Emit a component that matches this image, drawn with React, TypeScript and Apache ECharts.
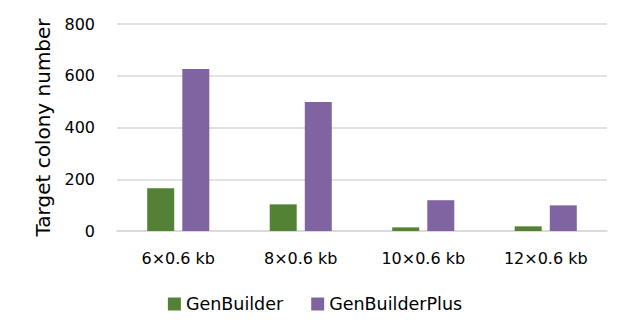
import React, { useEffect, useRef } from "react";
import * as echarts from "echarts";

const categories = ["6×0.6 kb", "8×0.6 kb", "10×0.6 kb", "12×0.6 kb"];
const genBuilder = [165, 103, 14, 18];
const genBuilderPlus = [626, 499, 119, 99];
const yTicks = { min: 0, max: 800, interval: 200 };

export default function App() {
  const ref = useRef<HTMLDivElement>(null);
  useEffect(() => {
    const chart = echarts.init(ref.current!, null, { renderer: "svg" });
    const font = "'DejaVu Sans', sans-serif";
    chart.setOption({
      animation: false,
      textStyle: { fontFamily: font },
      grid: { left: 109, right: 15, top: 16, bottom: 97, containLabel: false },
      legend: {
        top: 282,
        left: "center",
        itemWidth: 13,
        itemHeight: 13,
        itemGap: 28,
        icon: "rect",
        textStyle: { fontSize: 17.5, color: "#000", fontFamily: font, padding: [0, 0, 0, 0] },
        data: ["GenBuilder", "GenBuilderPlus"],
      },
      xAxis: {
        type: "category",
        data: categories,
        axisTick: { show: false },
        axisLine: { show: true, lineStyle: { color: "#d9d9d9", width: 1.5 } },
        axisLabel: { color: "#000", fontSize: 16, margin: 19, fontFamily: font },
      },
      yAxis: {
        type: "value",
        min: yTicks.min,
        max: yTicks.max,
        interval: yTicks.interval,
        name: "Target colony number",
        nameLocation: "middle",
        nameGap: 64,
        nameTextStyle: { fontSize: 20, color: "#000", fontFamily: font },
        axisLine: { show: false },
        axisTick: { show: false },
        axisLabel: { color: "#000", fontSize: 16, margin: 22, fontFamily: font },
        splitLine: { lineStyle: { color: "#d9d9d9", width: 1.5 } },
      },
      series: [
        {
          name: "GenBuilder",
          type: "bar",
          data: genBuilder,
          barWidth: 27,
          barGap: "30%",
          itemStyle: { color: "#548235" },
        },
        {
          name: "GenBuilderPlus",
          type: "bar",
          data: genBuilderPlus,
          barWidth: 27,
          barGap: "30%",
          itemStyle: { color: "#8064a2" },
        },
      ],
    });
    return () => chart.dispose();
  }, []);
  return <div ref={ref} style={{ width: 614, height: 320 }} />;
}
